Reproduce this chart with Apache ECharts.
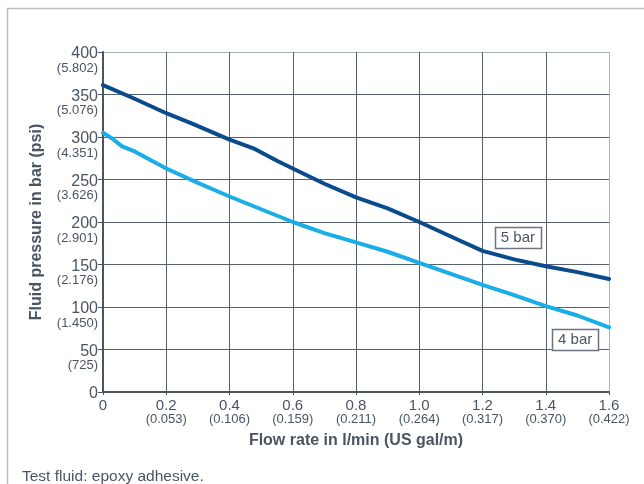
<!DOCTYPE html>
<html>
<head>
<meta charset="utf-8">
<script src="https://cdn.jsdelivr.net/npm/echarts@6/dist/echarts.min.js"></script>
<style>
html,body{margin:0;padding:0;background:#fff;}
#chart{width:644px;height:484px;}
</style>
</head>
<body>
<div id="chart"></div>
<script>
// ---- data ----
const flow5 = [0, 0.1, 0.2, 0.28, 0.4, 0.48, 0.55, 0.6, 0.7, 0.8, 0.9, 1.0, 1.1, 1.2, 1.3, 1.4, 1.5, 1.6];
const press5 = [361, 345, 328, 316, 297, 286, 272, 263, 245, 229, 216, 200, 183, 166, 156, 148, 141, 133];
const flow4 = [0, 0.03, 0.06, 0.1, 0.2, 0.3, 0.4, 0.5, 0.6, 0.7, 0.8, 0.9, 1.0, 1.1, 1.2, 1.3, 1.4, 1.5, 1.6];
const press4 = [305, 298, 289, 283, 263, 246, 230, 215, 200, 187, 176, 165, 152, 139, 126, 114, 101, 90, 76];
const yTicks = [0, 50, 100, 150, 200, 250, 300, 350, 400];
const yPsi = ['', '725', '1.450', '2.176', '2.901', '3.626', '4.351', '5.076', '5.802'];
const xTicks = [0, 0.2, 0.4, 0.6, 0.8, 1.0, 1.2, 1.4, 1.6];
const xGal = ['', '0.053', '0.106', '0.159', '0.211', '0.264', '0.317', '0.370', '0.422'];
const seriesNames = ['5 bar', '4 bar'];
const labelAnchors = [[1.312, 182], [1.493, 62]];

const FONT = '"Liberation Sans", Arial, Helvetica, sans-serif';
const TXT = '#4a5562';
const GRID = '#56616e';
const LIGHT = '#a9b1bb';

function pairs(xs, ys){ return xs.map((x,i)=>[x, ys[i]]); }
function idxOf(arr, v){ for(let i=0;i<arr.length;i++){ if(Math.abs(arr[i]-v)<1e-6) return i; } return -1; }

const chart = echarts.init(document.getElementById('chart'), null, {renderer:'canvas'});
const gridColorsY = yTicks.map((v,i)=> i===yTicks.length-1 ? LIGHT : GRID);
const gridColorsX = xTicks.map((v,i)=> i===xTicks.length-1 ? LIGHT : GRID);

const option = {
  backgroundColor:'#fff',
  animation:false,
  textStyle:{fontFamily:FONT},
  grid:{left:103, right:35, top:52, bottom:92, containLabel:false},
  xAxis:{
    type:'value', min:0, max:1.6, interval:0.2,
    name:'Flow rate in l/min (US gal/m)', nameLocation:'middle', nameGap:41,
    nameTextStyle:{fontFamily:FONT, fontSize:16, fontWeight:'bold', color:TXT},
    axisLine:{show:true, lineStyle:{color:'#4a5562', width:2}},
    axisTick:{show:true, length:3, lineStyle:{color:'#4a5562'}},
    splitLine:{show:true, lineStyle:{color:gridColorsX, width:1}},
    axisLabel:{
      margin:6,
      formatter:function(v){
        const i = idxOf(xTicks, v);
        const main = (v===0) ? '0' : v.toFixed(1);
        const sub = (i>=0 && xGal[i]) ? '(' + xGal[i] + ')' : ' ';
        return '{a|' + main + '}\n{b|' + sub + '}';
      },
      rich:{
        a:{fontFamily:FONT, fontSize:15, lineHeight:15, color:TXT},
        b:{fontFamily:FONT, fontSize:13, lineHeight:12, color:TXT}
      }
    }
  },
  yAxis:{
    type:'value', min:0, max:400, interval:50,
    name:'Fluid pressure in bar (psi)', nameLocation:'middle', nameGap:58,
    nameTextStyle:{fontFamily:FONT, fontSize:16, fontWeight:'bold', color:TXT},
    axisLine:{show:true, lineStyle:{color:'#4a5562', width:2}},
    axisTick:{show:true, length:5, lineStyle:{color:'#4a5562'}},
    splitLine:{show:true, lineStyle:{color:gridColorsY, width:1}},
    axisLabel:{
      margin:5,
      padding:[16,0,0,0],
      formatter:function(v){
        const i = idxOf(yTicks, v);
        const sub = (i>=0 && yPsi[i]) ? '(' + yPsi[i] + ')' : ' ';
        return '{a|' + v + '}\n{b|' + sub + '}';
      },
      rich:{
        a:{fontFamily:FONT, fontSize:16, lineHeight:16, color:TXT, align:'right'},
        b:{fontFamily:FONT, fontSize:13, lineHeight:12, color:TXT, align:'right'}
      }
    }
  },
  series:[
    {name:seriesNames[0], type:'line', data:pairs(flow5, press5), showSymbol:false, symbol:'none',
     lineStyle:{color:'#0b4a8c', width:4, cap:'round', join:'round'}, z:3},
    {name:seriesNames[1], type:'line', data:pairs(flow4, press4), showSymbol:false, symbol:'none',
     lineStyle:{color:'#1aade6', width:4, cap:'round', join:'round'}, z:3}
  ]
};
chart.setOption(option);

const graphics = [
  {type:'rect', shape:{x:7.5, y:8.5, width:700, height:600}, style:{fill:null, stroke:'#b5bdc7', lineWidth:1.5}, silent:true, z:-10},
  {type:'text', left:22, top:469, style:{text:'Test fluid: epoxy adhesive.', font:'15.5px ' + FONT, fill:TXT}}
];
labelAnchors.forEach(function(a, i){
  const p = chart.convertToPixel({gridIndex:0}, a);
  const w = 46, h = 21;
  graphics.push({type:'rect', shape:{x:Math.round(p[0]-w/2)+0.5, y:Math.round(p[1]-h/2)+0.5, width:w, height:h},
    style:{fill:'#fff', stroke:'#6b7480', lineWidth:1.5}, z:10});
  graphics.push({type:'text', x:p[0], y:p[1]+0.5, style:{text:seriesNames[i], font:'15px ' + FONT, fill:TXT, textAlign:'center', textVerticalAlign:'middle'}, z:11});
});
chart.setOption({graphic:graphics});
</script>
</body>
</html>
